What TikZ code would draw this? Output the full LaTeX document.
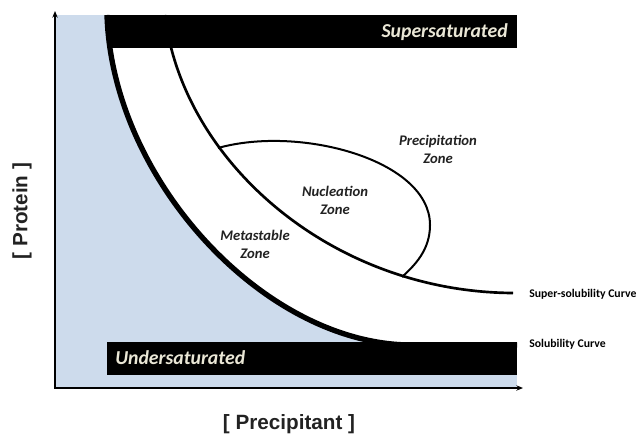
\documentclass[tikz,border=0pt]{standalone}
\usepackage{fontspec}
\setmainfont{Carlito}
\newfontfamily\axisfont{Liberation Sans}
\usetikzlibrary{arrows.meta}
\definecolor{under-blue}{HTML}{CDDBEC}
\definecolor{bar-text}{HTML}{EAE7D6}
\definecolor{zone-text}{HTML}{222222}

\tikzset{
  barlabel/.style={text=bar-text,font=\fontsize{14.8}{17}\selectfont\bfseries\itshape,inner sep=0pt},
  zonelabel/.style={text=zone-text,align=center,font=\fontsize{11}{13.5}\selectfont\bfseries\itshape,inner sep=0pt},
  curvelabel/.style={anchor=west,font=\fontsize{8.8}{10}\selectfont\bfseries,inner sep=0pt},
  axislabel/.style={text=zone-text,font=\fontsize{15.5}{18}\selectfont\axisfont\bfseries,inner sep=0pt}
}

\begin{document}
\begin{tikzpicture}[x=0.75pt,y=-0.75pt]
	\useasboundingbox (0,0) rectangle (641,435);
	% corner points of the two curves
	\coordinate (sol-top) at (107,15);
	\coordinate (sol-end) at (412,345);
	\coordinate (sup-top) at (165,15);
	\coordinate (sup-end) at (513,293);
	\coordinate (nuc-a) at (218,148);
	\coordinate (nuc-b) at (402,277);

	% background, then the region above the solubility curve
	\fill[under-blue] (55,15) rectangle (517,387);
	\fill[white] (sol-top) .. controls (112,180) and (265,345) .. (sol-end) -- (517,345) -- (517,15) -- cycle;

	% curves
	\draw[line width=4pt] (sol-top) .. controls (112,180) and (265,345) .. (sol-end) -- (517,345);
	\draw[line width=2pt] (sup-top) .. controls (182,160) and (330,292) .. (sup-end);
	\draw[line width=1.5pt] (nuc-a) .. controls (300,125) and (430,160) .. (430,225)
		.. controls (430,250) and (415,265) .. (nuc-b);

	% bars
	\fill (107,15) rectangle (517,48);
	\fill (107,342) rectangle (517,375);
	\node[barlabel,anchor=east] (super) at (508,32) {Supersaturated};
	\node[barlabel,anchor=west] (under) at (115,358) {Undersaturated};

	% axes
	\draw[line width=1.1pt,-{Stealth[length=5pt,width=4pt]}] (55,388.5) -- (55,11);
	\draw[line width=1.1pt,-{Stealth[length=5pt,width=4pt]}] (54.5,388) -- (523,388);

	% zones
	\node[zonelabel] (precip) at (438,149) {Precipitation\\Zone};
	\node[zonelabel] (nucl) at (335,200) {Nucleation\\Zone};
	\node[zonelabel] (meta) at (255,244) {Metastable\\Zone};

	\node[curvelabel] (supsol) at (529,294) {Super-solubility Curve};
	\node[curvelabel] (sol) at (529,344) {Solubility Curve};

	\node[axislabel] (xlab) at (289,424) {[ Precipitant ]};
	\node[axislabel,rotate=90] (ylab) at (22,211) {[ Protein ]};
\end{tikzpicture}
\end{document}
